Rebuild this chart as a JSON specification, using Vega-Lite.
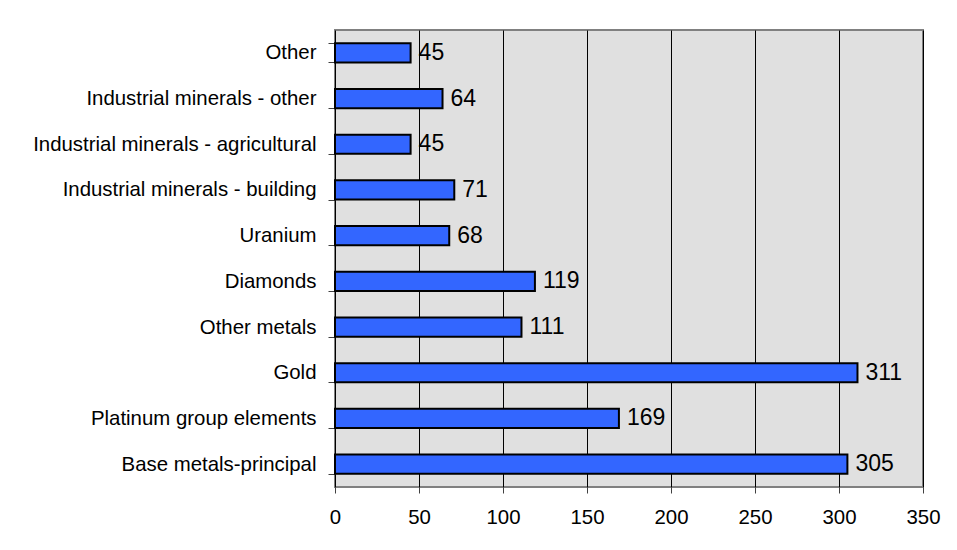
{
  "$schema": "https://vega.github.io/schema/vega-lite/v6.json",
  "width": 588,
  "height": 457,
  "padding": {"left": 32, "top": 20, "right": 20, "bottom": 5},
  "background": "#ffffff",
  "config": {
    "font": "Liberation Sans",
    "view": {"fill": "#e0e0e0", "stroke": "#808080", "strokeWidth": 2}
  },
  "data": {
    "values": [
      {"category": "Other", "value": 45},
      {"category": "Industrial minerals - other", "value": 64},
      {"category": "Industrial minerals - agricultural", "value": 45},
      {"category": "Industrial minerals - building", "value": 71},
      {"category": "Uranium", "value": 68},
      {"category": "Diamonds", "value": 119},
      {"category": "Other metals", "value": 111},
      {"category": "Gold", "value": 311},
      {"category": "Platinum group elements", "value": 169},
      {"category": "Base metals-principal", "value": 305}
    ]
  },
  "encoding": {
    "y": {
      "field": "category",
      "type": "nominal",
      "sort": null,
      "scale": {"paddingInner": 0.58, "paddingOuter": 0.29},
      "axis": {
        "title": null,
        "tickBand": "extent",
        "tickSize": 7,
        "tickColor": "#404040",
        "tickWidth": 1,
        "domain": false,
        "labelPadding": 12,
        "labelFontSize": 20.4,
        "labelColor": "#000000",
        "labelLimit": 400
      }
    },
    "x": {
      "field": "value",
      "type": "quantitative",
      "scale": {"domain": [0, 350], "nice": false},
      "axis": {
        "title": null,
        "values": [0, 50, 100, 150, 200, 250, 300, 350],
        "grid": true,
        "gridColor": "#000000",
        "gridOpacity": 1,
        "gridWidth": 1,
        "tickSize": 6,
        "tickColor": "#404040",
        "domain": false,
        "labelPadding": 14,
        "labelFontSize": 20.4,
        "labelColor": "#000000",
        "labelFlush": false
      }
    }
  },
  "layer": [
    {
      "mark": {"type": "bar", "fill": "#3366ff", "stroke": "#000000", "strokeWidth": 2}
    },
    {
      "mark": {"type": "text", "align": "left", "baseline": "middle", "dx": 8, "fontSize": 23, "color": "#000000"},
      "encoding": {"text": {"field": "value", "type": "quantitative"}}
    }
  ]
}
